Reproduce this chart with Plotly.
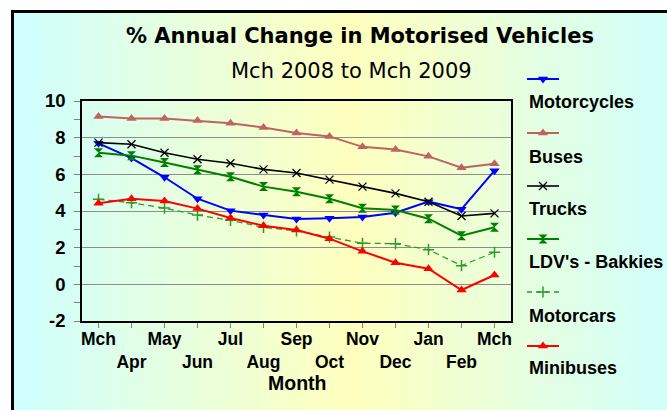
import plotly.graph_objects as go

W, H = 667, 410

months = ["Mch", "Apr", "May", "Jun", "Jul", "Aug", "Sep", "Oct", "Nov", "Dec", "Jan", "Feb", "Mch"]

motorcycles = [7.69, 6.89, 5.84, 4.67, 4.02, 3.78, 3.56, 3.60, 3.67, 3.91, 4.51, 4.10, 6.20]
buses       = [9.15, 9.04, 9.04, 8.93, 8.78, 8.56, 8.25, 8.07, 7.50, 7.35, 6.98, 6.36, 6.58]
trucks      = [7.73, 7.64, 7.18, 6.82, 6.60, 6.27, 6.07, 5.71, 5.33, 4.96, 4.50, 3.73, 3.87]
ldv         = [7.18, 7.02, 6.64, 6.25, 5.87, 5.33, 5.05, 4.67, 4.15, 4.05, 3.58, 2.65, 3.11]
motorcars   = [4.64, 4.45, 4.16, 3.78, 3.49, 3.11, 2.91, 2.58, 2.24, 2.22, 1.89, 1.02, 1.75]
minibuses   = [4.42, 4.67, 4.55, 4.13, 3.62, 3.20, 2.96, 2.49, 1.80, 1.18, 0.85, -0.31, 0.51]

series_names = ["Motorcycles", "Buses", "Trucks", "LDV's - Bakkies", "Motorcars", "Minibuses"]
series_values = [motorcycles, buses, trucks, ldv, motorcars, minibuses]

y_ticks = [-2, 0, 2, 4, 6, 8, 10]
y_ticklabels = ["-2", "0", "2", "4", "6", "8", "10"]

title_text = "% Annual Change in Motorised Vehicles"
subtitle_text = "Mch 2008 to Mch 2009"
x_title = "Month"

styles = [
    dict(color="#0000FF", symbol="triangle-down", size=9, width=2, dash="solid", lw=0),
    dict(color="#BF6262", symbol="triangle-up", size=9, width=2, dash="solid", lw=0),
    dict(color="#000000", symbol="x-thin", size=8, width=1.6, dash="solid", lw=1.3),
    dict(color="#008000", symbol="hourglass", size=9, width=2, dash="solid", lw=0),
    dict(color="#2E9A2E", symbol="cross-thin", size=8, width=1.3, dash="6px,4px", lw=1.5),
    dict(color="#FF0000", symbol="triangle-up", size=9, width=2, dash="solid", lw=0),
]

TFONT = "DejaVu Sans"
AFONT = "Liberation Sans"

def px(x):
    return x / W

def py(y):
    return 1 - y / H

fig = go.Figure()

xs = list(range(len(months)))
for name, vals, st in zip(series_names, series_values, styles):
    fig.add_trace(go.Scatter(
        x=xs, y=vals, name=name, mode="lines+markers",
        line=dict(color=st["color"], width=st["width"], dash=st["dash"]),
        marker=dict(symbol=st["symbol"], size=st["size"], color=st["color"],
                    line=dict(color=st["color"], width=st["lw"])),
        showlegend=False, xaxis="x", yaxis="y",
    ))

# custom legend (symbol above label) in pixel-coordinate overlay axes
leg_sample_y = [79, 133, 186, 239, 292, 346]
leg_label_y = [102, 157, 209, 262, 316, 368]
for name, st, sy, ly in zip(series_names, styles, leg_sample_y, leg_label_y):
    fig.add_trace(go.Scatter(
        x=[527, 543, 559], y=[sy, sy, sy], mode="lines",
        line=dict(color=st["color"], width=st["width"], dash=st["dash"] if st["dash"] == "solid" else "5px,4px"),
        showlegend=False, xaxis="x2", yaxis="y2", hoverinfo="skip",
    ))
    fig.add_trace(go.Scatter(
        x=[543], y=[sy], mode="markers",
        marker=dict(symbol=st["symbol"], size=st["size"], color=st["color"],
                    line=dict(color=st["color"], width=st["lw"])),
        showlegend=False, xaxis="x2", yaxis="y2", hoverinfo="skip",
    ))
    fig.add_annotation(x=px(527), y=py(ly), xref="paper", yref="paper",
                       text=name, showarrow=False, xanchor="left", yanchor="middle",
                       font=dict(family=AFONT, size=18, color="black", weight="bold"))

# background gradient strips
shapes = []
x0, x1 = 12, 690
n = 90
cyan = (206, 255, 255)
yellow = (255, 255, 190)
for i in range(n):
    a = x0 + (x1 - x0) * i / n
    b = x0 + (x1 - x0) * (i + 1) / n
    t = (i + 0.5) / n
    f = 1 - abs(2 * t - 1)
    c = tuple(round(cyan[k] + (yellow[k] - cyan[k]) * f) for k in range(3))
    col = "rgb(%d,%d,%d)" % c
    shapes.append(dict(type="rect", xref="paper", yref="paper",
                       x0=px(a), x1=px(b + 0.8), y0=py(430), y1=py(11),
                       fillcolor=col, line=dict(width=0), layer="below"))
# outer border
shapes.append(dict(type="rect", xref="paper", yref="paper",
                   x0=px(12.5), x1=px(720), y0=py(440), y1=py(11.5),
                   line=dict(color="black", width=3), fillcolor="rgba(0,0,0,0)", layer="above"))

ticktext = [m if i % 2 == 0 else "<br>" + m for i, m in enumerate(months)]

fig.update_layout(
    width=W, height=H, autosize=False,
    margin=dict(l=0, r=0, t=0, b=0, pad=0, autoexpand=False),
    paper_bgcolor="white",
    plot_bgcolor="rgba(0,0,0,0)",
    shapes=shapes,
    xaxis=dict(domain=[px(82), px(511)], range=[-0.5, len(months) - 0.5],
               tickmode="array", tickvals=xs, ticktext=ticktext, tickangle=0,
               ticks="outside", ticklen=5, tickcolor="#808080", tickwidth=1.3,
               showline=True, linecolor="black", linewidth=1.5, mirror=True,
               showgrid=False, zeroline=False, automargin=False,
               tickfont=dict(family=AFONT, size=17.5, color="black", weight="bold"),
               ticklabelstandoff=-4, anchor="y"),
    xaxis3=dict(overlaying="x", matches="x", range=[-0.5, len(months) - 0.5],
                tickmode="array", tickvals=xs, ticks="inside", ticklen=5,
                tickcolor="#808080", tickwidth=1.3, showticklabels=False, automargin=False,
                showline=False, showgrid=False, zeroline=False, anchor="y"),
    yaxis=dict(domain=[py(321), py(101)], range=[-2, 10],
               tickmode="array", tickvals=y_ticks, ticktext=y_ticklabels,
               ticks="outside", ticklen=6, tickcolor="#808080", tickwidth=1.3,
               minor=dict(dtick=1, ticks="outside", ticklen=6, tickcolor="#808080", tickwidth=1.3, showgrid=False),
               showline=True, linecolor="black", linewidth=1.5, mirror=True,
               showgrid=True, gridcolor="#8C8C8C", gridwidth=1.3, zeroline=False,
               tickfont=dict(family=AFONT, size=18.5, color="black", weight="bold"),
               ticklabelstandoff=5, anchor="x", automargin=False),
    xaxis2=dict(domain=[0, 1], range=[0, W], visible=False, anchor="y2", automargin=False),
    yaxis2=dict(domain=[0, 1], range=[H, 0], visible=False, anchor="x2", automargin=False),
    showlegend=False,
)

fig.add_annotation(x=px(360), y=py(36), xref="paper", yref="paper", text=title_text,
                   showarrow=False, xanchor="center", yanchor="middle",
                   font=dict(family=TFONT, size=21, color="black", weight="bold"))
fig.add_annotation(x=px(351), y=py(71), xref="paper", yref="paper", text=subtitle_text,
                   showarrow=False, xanchor="center", yanchor="middle",
                   font=dict(family=TFONT, size=21, color="black"))
fig.add_annotation(x=px(297), y=py(383), xref="paper", yref="paper", text=x_title,
                   showarrow=False, xanchor="center", yanchor="middle",
                   font=dict(family=AFONT, size=19.5, color="black", weight="bold"))

fig.write_html("out.html", config={"displayModeBar": False},
               post_script="document.body.style.margin='0';")
